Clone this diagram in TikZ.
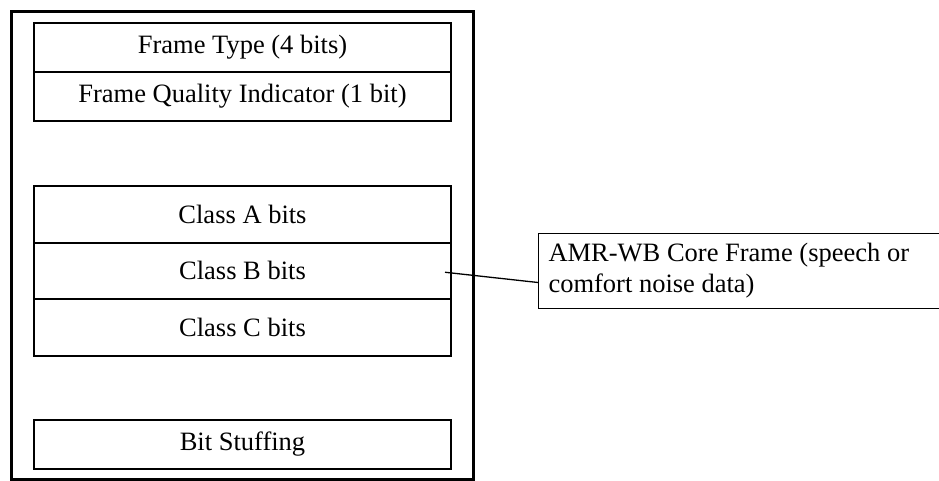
\documentclass[tikz,border=0pt]{standalone}
\usepackage{fontspec}
\setmainfont{Liberation Serif}
\begin{document}
\begin{tikzpicture}[x=1pt,y=-1pt,
  field/.style={draw,line width=2pt,minimum width=417pt,inner sep=0pt,anchor=north west,font=\fontsize{26.5}{30}\selectfont},
  outerbox/.style={draw,line width=3pt},
  callout/.style={draw,line width=1pt,anchor=north west,minimum height=75pt,inner xsep=10pt,inner ysep=0pt,text width=381pt,align=flush left,font=\fontsize{26.5}{31}\selectfont},
  link/.style={draw,line width=1.3pt}]
\useasboundingbox (0,0) rectangle (939,480);
\draw[outerbox] (11.5,11.5) rectangle (473,479);
\node[field,minimum height=49pt] (ft) at (33,22) {Frame Type (4 bits)};
\node[field,minimum height=49pt] (fqi) at (33,71) {Frame Quality Indicator (1 bit)};
\node[field,minimum height=56.5pt] (ca) at (33,185) {Class A bits};
\node[field,minimum height=56.5pt] (cb) at (33,241.5) {Class B bits};
\node[field,minimum height=56.5pt] (cc) at (33,298) {Class C bits};
\node[field,minimum height=49pt] (bs) at (33,419) {Bit Stuffing};
\node[callout] (core) at (538,233) {AMR-WB Core Frame (speech or\\comfort noise data)};
\coordinate (lstart) at ([xshift=-7pt,yshift=-1.5pt]cb.east);
\coordinate (lend) at ([yshift=-11.5pt]core.west);
\draw[link] (lstart) -- (lend);
\end{tikzpicture}
\end{document}
